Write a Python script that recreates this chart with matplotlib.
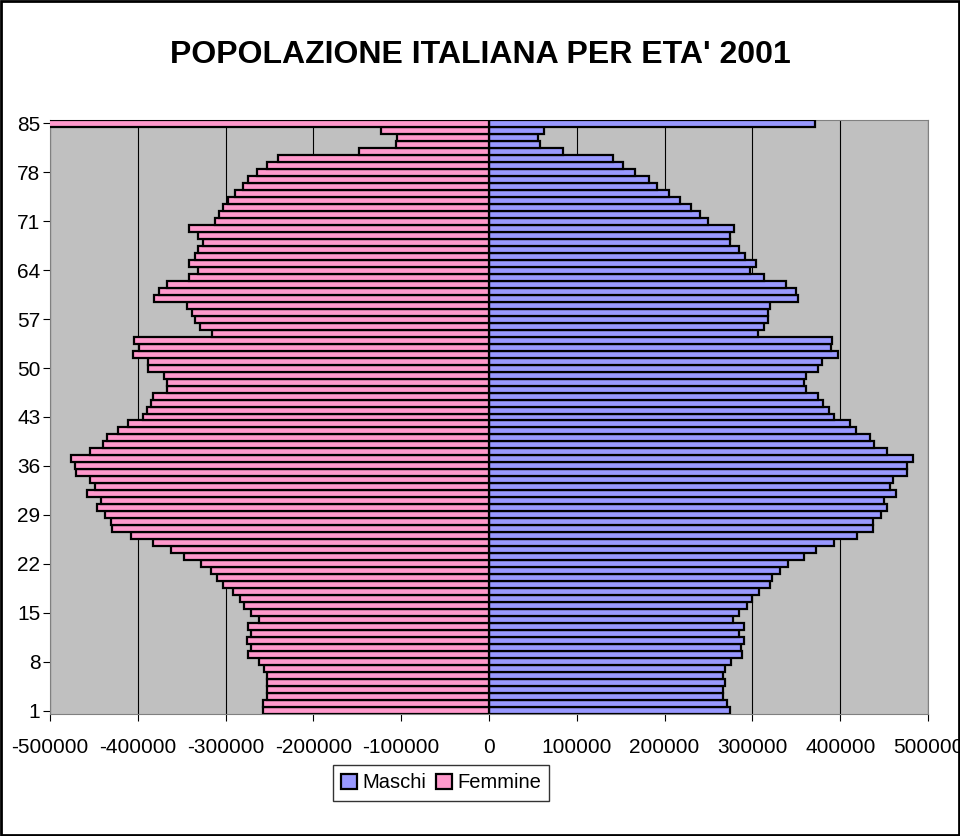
import matplotlib
matplotlib.use("Agg")
import matplotlib.pyplot as plt
import numpy as np

ages = list(range(1, 86))
# values listed from age 85 down to age 1
maschi_desc = [371, 63, 56, 58, 84, 141, 153, 166, 182, 191, 205, 217, 230, 240, 249,
               279, 274, 274, 285, 292, 304, 297, 313, 338, 350, 352, 320, 318, 318, 313,
               306, 391, 389, 398, 379, 375, 361, 359, 361, 375, 380, 387,
               393, 411, 418, 434, 439, 453, 483, 476, 476, 460, 457, 464, 450, 453, 446,
               437, 437, 419, 393, 373, 359, 340, 331, 322, 320, 308, 300, 294, 285, 278,
               290, 285, 290, 287, 288, 276, 269, 267, 269, 267, 267, 271, 274]
femmine_desc = [530, 123, 105, 106, 148, 240, 253, 264, 274, 280, 289, 297, 303, 308, 312,
                342, 331, 326, 331, 335, 342, 331, 342, 367, 376, 381, 344, 338, 335, 329,
                316, 404, 399, 406, 388, 388, 370, 367, 367, 383, 385, 390,
                394, 411, 422, 435, 440, 454, 476, 472, 470, 454, 449, 458, 442, 447, 437,
                431, 429, 408, 383, 362, 347, 328, 317, 310, 303, 292, 284, 279, 271, 262,
                274, 271, 276, 271, 274, 262, 256, 253, 253, 253, 253, 257, 257]
maschi = np.array(maschi_desc[::-1]) * 1000
femmine = np.array(femmine_desc[::-1]) * 1000
xticks = [-500000, -400000, -300000, -200000, -100000, 0, 100000, 200000, 300000, 400000, 500000]
yticks = list(range(1, 86, 7))

fig = plt.figure(figsize=(9.6, 8.36), dpi=100)
fig.patch.set_facecolor("white")
ax = fig.add_axes([50/960, 1-714/836, 878/960, 594/836])
ax.set_facecolor("#c0c0c0")
ax.barh(ages, maschi, height=1.0, color="#9999ff", edgecolor="black", linewidth=1.6, label="Maschi", zorder=3)
ax.barh(ages, -femmine, height=1.0, color="#ff99cc", edgecolor="black", linewidth=1.6, label="Femmine", zorder=3)
ax.set_xlim(-500000, 500000)
ax.set_ylim(0.5, 85.5)
ax.set_xticks(xticks)
ax.set_xticklabels([str(v) for v in xticks], fontsize=15, family="Liberation Sans")
ax.set_yticks(yticks)
ax.set_yticklabels([str(v) for v in yticks], fontsize=15, family="Liberation Sans")
ax.xaxis.grid(True, color="black", linewidth=0.8, zorder=0)
ax.set_axisbelow(True)
for s in ["top", "right", "left", "bottom"]:
    ax.spines[s].set_color("#808080")
ax.tick_params(axis="x", pad=12, length=5)
ax.tick_params(axis="y", length=5, pad=2)
fig.text(0.5, 1-55/836, "POPOLAZIONE ITALIANA PER ETA' 2001", ha="center", va="center",
         fontsize=23, fontweight="bold", family="Liberation Sans")
leg = fig.legend(loc="center", bbox_to_anchor=(441/960, 1-783/836), ncol=2, frameon=True,
                 fancybox=False, edgecolor="black", prop={"family": "Liberation Sans", "size": 14.5},
                 handlelength=0.8, handleheight=0.8, handletextpad=0.25, columnspacing=0.5,
                 borderpad=0.4)
leg.get_frame().set_linewidth(1)
fig.add_artist(plt.Rectangle((0.001, 0.001), 0.998, 0.998, transform=fig.transFigure,
                             fill=False, edgecolor="black", linewidth=2))
fig.savefig("out.png", dpi=100, facecolor="white")
